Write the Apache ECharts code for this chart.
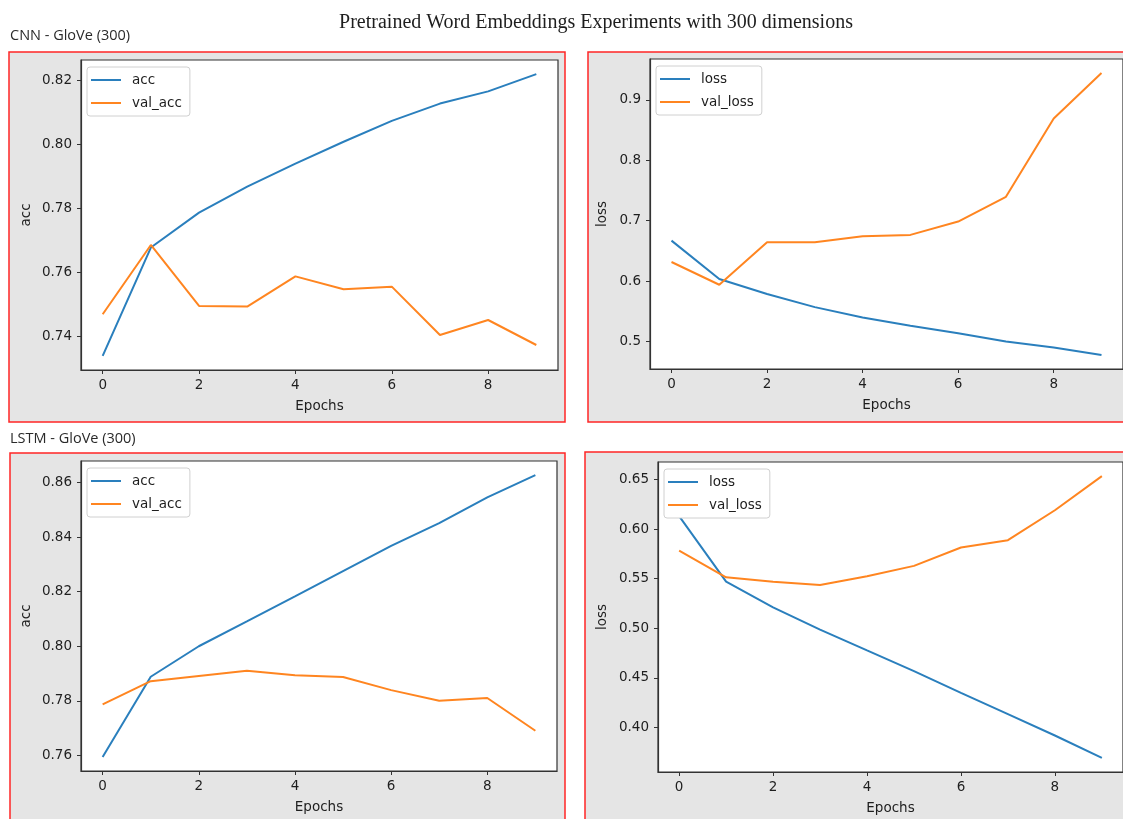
<!DOCTYPE html>
<html>
<head>
<meta charset="utf-8">
<style>
  html, body { margin: 0; padding: 0; background: #ffffff; }
  #chart { width: 1123px; height: 819px; }
</style>
<script src="https://cdn.jsdelivr.net/npm/echarts@6/dist/echarts.min.js"></script>
</head>
<body>
<div id="chart"></div>
<script>
// Training history, 10 epochs, GloVe 300-d embeddings
const epochs = [0, 1, 2, 3, 4, 5, 6, 7, 8, 9];

const cnnAcc      = [0.7340, 0.7678, 0.7787, 0.7868, 0.7940, 0.8008, 0.8073, 0.8127, 0.8165, 0.8219];
const cnnValAcc   = [0.7470, 0.7686, 0.7496, 0.7494, 0.7588, 0.7548, 0.7556, 0.7405, 0.7452, 0.7374];
const cnnLoss     = [0.6670, 0.6035, 0.5786, 0.5570, 0.5398, 0.5260, 0.5138, 0.5000, 0.4900, 0.4779];
const cnnValLoss  = [0.6317, 0.5940, 0.6643, 0.6643, 0.6743, 0.6765, 0.6986, 0.7396, 0.8690, 0.9443];

const lstmAcc     = [0.7594, 0.7888, 0.8000, 0.8091, 0.8183, 0.8276, 0.8368, 0.8452, 0.8546, 0.8628];
const lstmValAcc  = [0.7787, 0.7872, 0.7891, 0.7910, 0.7894, 0.7887, 0.7839, 0.7800, 0.7810, 0.7690];
const lstmLoss    = [0.6130, 0.5470, 0.5211, 0.4986, 0.4777, 0.4569, 0.4350, 0.4135, 0.3920, 0.3694];
const lstmValLoss = [0.5783, 0.5514, 0.5470, 0.5437, 0.5524, 0.5629, 0.5814, 0.5888, 0.6190, 0.6534];

// Tick labels
const xTicks           = [0, 2, 4, 6, 8];
const cnnAccTicks      = [0.74, 0.76, 0.78, 0.80, 0.82];
const cnnLossTicks     = [0.5, 0.6, 0.7, 0.8, 0.9];
const lstmAccTicks     = [0.76, 0.78, 0.80, 0.82, 0.84, 0.86];
const lstmLossTicks    = [0.40, 0.45, 0.50, 0.55, 0.60, 0.65];

// Text
const figureTitle = 'Pretrained Word Embeddings Experiments with 300 dimensions';
const rowTitles   = ['CNN - GloVe (300)', 'LSTM - GloVe (300)'];

const BLUE = '#2a7fbd';
const ORANGE = '#ff8520';
const INK = '#1e1e1e';
const TICK_FONT = 'DejaVu Sans';
const FONT_SIZE = 13.5;

// Axis limits padded by 5% of the data span on each side
function padded(a, b) {
  const all = a.concat(b);
  const lo = Math.min(...all), hi = Math.max(...all);
  const p = (hi - lo) * 0.05;
  return [lo - p, hi + p];
}
const xPad = (epochs[epochs.length - 1] - epochs[0]) * 0.05;

// Panel layout: outer red frame and inner plot area (px)
const panels = [
  { frame: [9, 52, 556, 370],   grid: { left: 81,  top: 60,  width: 477, height: 310 }, nameGap: 48,
    a: cnnAcc, b: cnnValAcc, names: ['acc', 'val_acc'], yName: 'acc', ticks: cnnAccTicks, dec: 2 },
  { frame: [588, 52, 560, 370], grid: { left: 650, top: 59,  width: 476, height: 310 }, nameGap: 41,
    a: cnnLoss, b: cnnValLoss, names: ['loss', 'val_loss'], yName: 'loss', ticks: cnnLossTicks, dec: 1 },
  { frame: [10, 453, 555, 400], grid: { left: 81,  top: 461, width: 476, height: 310 }, nameGap: 48,
    a: lstmAcc, b: lstmValAcc, names: ['acc', 'val_acc'], yName: 'acc', ticks: lstmAccTicks, dec: 2 },
  { frame: [585, 452, 560, 400], grid: { left: 658, top: 462, width: 475, height: 310 }, nameGap: 49,
    a: lstmLoss, b: lstmValLoss, names: ['loss', 'val_loss'], yName: 'loss', ticks: lstmLossTicks, dec: 2 }
];

const grids = [], xAxes = [], yAxes = [], series = [], legends = [], graphics = [];
const axisInk = { color: '#333333', width: 1.2 };

panels.forEach((p, i) => {
  graphics.push({
    type: 'rect', z: -100, silent: true,
    shape: { x: p.frame[0], y: p.frame[1], width: p.frame[2], height: p.frame[3] },
    style: { fill: '#e5e5e5', stroke: '#ff2626', lineWidth: 1.5 }
  });
  grids.push(Object.assign({
    show: true, backgroundColor: '#ffffff', borderColor: '#333333', borderWidth: 1.2
  }, p.grid));

  xAxes.push({
    type: 'value', gridIndex: i, min: epochs[0] - xPad, max: epochs[epochs.length - 1] + xPad,
    name: 'Epochs', nameLocation: 'middle', nameGap: 29,
    nameTextStyle: { fontFamily: TICK_FONT, fontSize: FONT_SIZE, color: INK },
    axisLine: { show: true, onZero: false, lineStyle: axisInk },
    axisTick: { show: true, inside: false, length: 4, customValues: xTicks, lineStyle: { color: '#333333' } },
    axisLabel: { customValues: xTicks, margin: 8, fontFamily: TICK_FONT, fontSize: FONT_SIZE, color: INK },
    splitLine: { show: false }
  });

  const lim = padded(p.a, p.b);
  yAxes.push({
    type: 'value', gridIndex: i, min: lim[0], max: lim[1],
    name: p.yName, nameLocation: 'middle', nameGap: p.nameGap, nameRotate: 90,
    nameTextStyle: { fontFamily: TICK_FONT, fontSize: FONT_SIZE, color: INK },
    axisLine: { show: true, onZero: false, lineStyle: axisInk },
    axisTick: { show: true, inside: false, length: 4, customValues: p.ticks, lineStyle: { color: '#333333' } },
    axisLabel: {
      customValues: p.ticks, margin: 9, fontFamily: TICK_FONT, fontSize: FONT_SIZE, color: INK,
      formatter: (v) => Number(v).toFixed(p.dec)
    },
    splitLine: { show: false }
  });

  [p.a, p.b].forEach((vals, k) => {
    series.push({
      type: 'line', name: p.names[k], xAxisIndex: i, yAxisIndex: i,
      data: epochs.map((e, j) => [e, vals[j]]),
      showSymbol: false, symbol: 'none', silent: true, animation: false,
      lineStyle: { color: k === 0 ? BLUE : ORANGE, width: 2 },
      itemStyle: { color: k === 0 ? BLUE : ORANGE }
    });
  });

  legends.push({
    left: p.grid.left + 6, top: p.grid.top + 7,
    orient: 'vertical', data: p.names,
    icon: 'rect', itemWidth: 30, itemHeight: 2, itemGap: 7,
    padding: [5, 8, 5, 4],
    backgroundColor: '#ffffff', borderColor: '#d0d0d0', borderWidth: 1, borderRadius: 3,
    textStyle: { fontFamily: TICK_FONT, fontSize: FONT_SIZE, color: INK, lineHeight: 16, padding: [0, 0, 0, 6] },
    selectedMode: false
  });
});

graphics.push({
  type: 'text', silent: true,
  style: { text: figureTitle, x: 596, y: 23, textAlign: 'center', textVerticalAlign: 'middle',
           font: '20px "Liberation Serif"', fill: INK }
});
graphics.push({
  type: 'text', silent: true,
  style: { text: rowTitles[0], x: 10, y: 36, textAlign: 'left', textVerticalAlign: 'middle',
           font: '14.5px "Open Sans"', fill: '#2a2a2a' }
});
graphics.push({
  type: 'text', silent: true,
  style: { text: rowTitles[1], x: 10, y: 439, textAlign: 'left', textVerticalAlign: 'middle',
           font: '14.5px "Open Sans"', fill: '#2a2a2a' }
});

const chart = echarts.init(document.getElementById('chart'), null, { renderer: 'canvas' });
chart.setOption({
  animation: false,
  backgroundColor: '#ffffff',
  graphic: { elements: graphics },
  grid: grids,
  xAxis: xAxes,
  yAxis: yAxes,
  legend: legends,
  series: series
});
</script>
</body>
</html>
